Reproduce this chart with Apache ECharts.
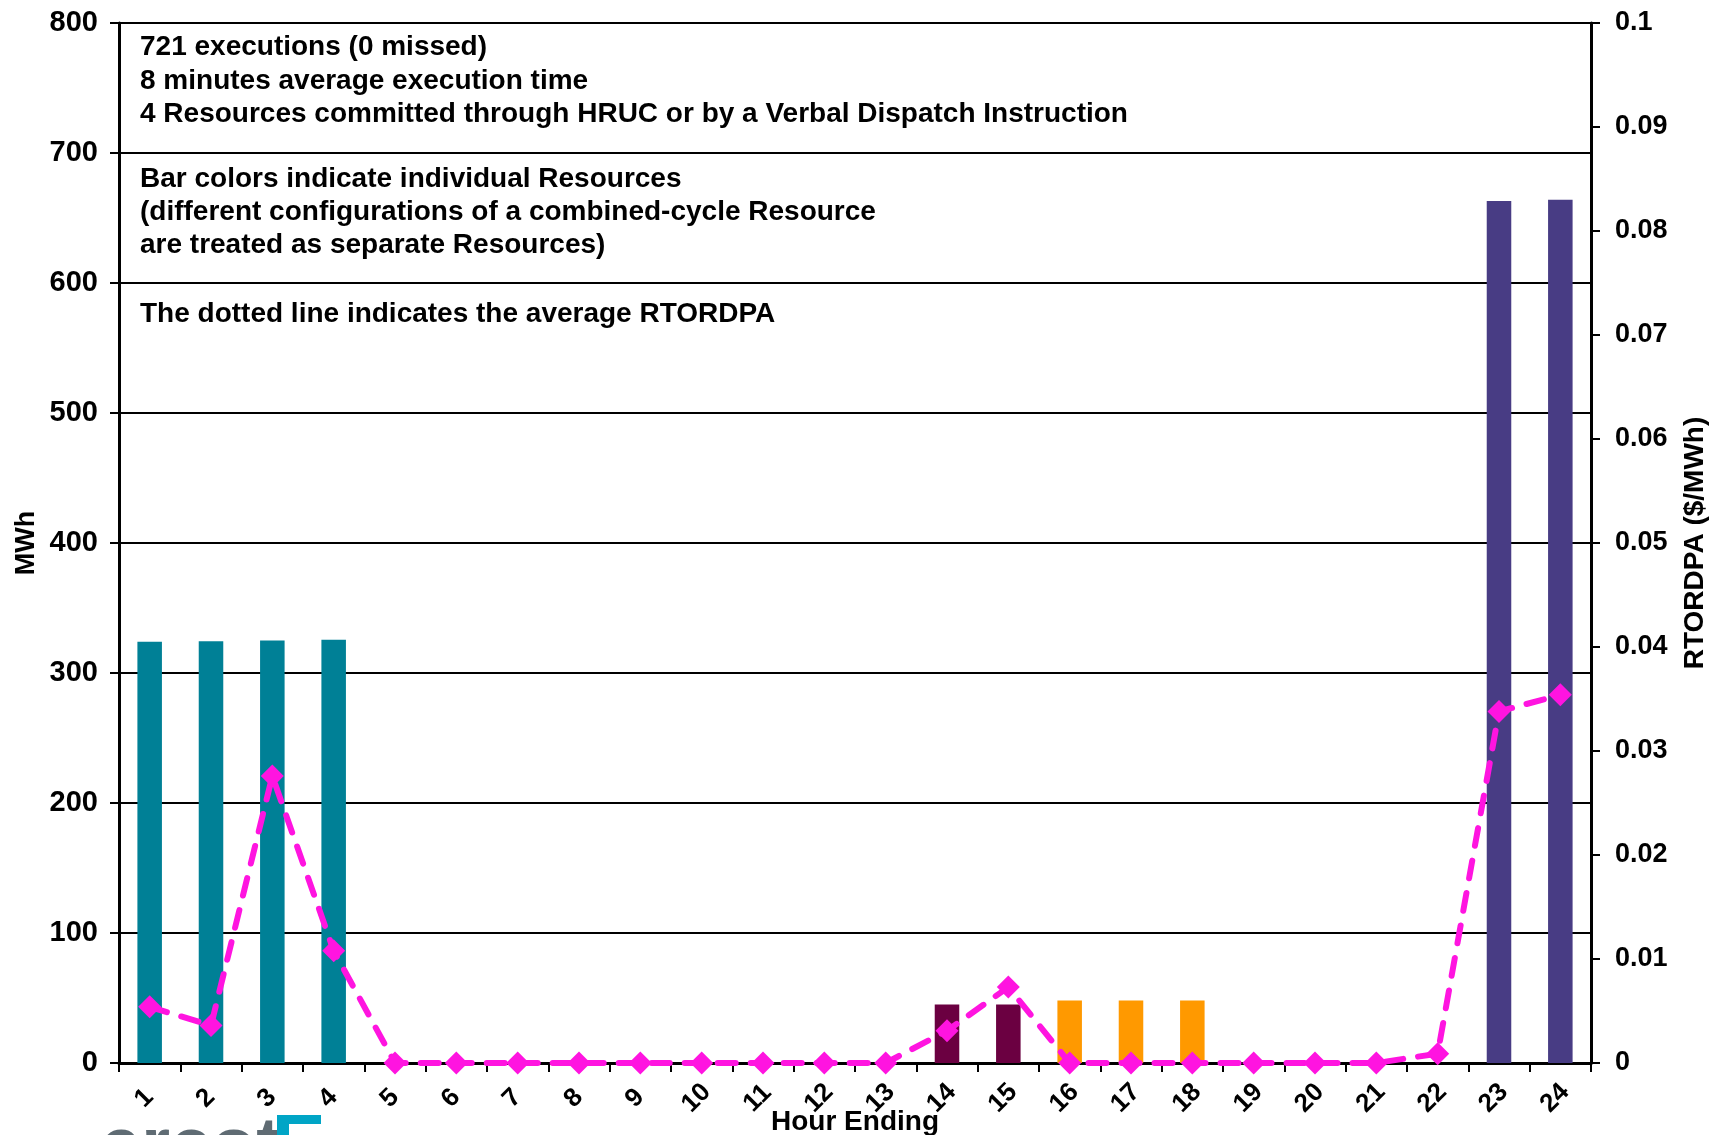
<!DOCTYPE html>
<html>
<head>
<meta charset="utf-8">
<script src="https://cdn.jsdelivr.net/npm/echarts@6/dist/echarts.min.js"></script>
<style>
html,body{margin:0;padding:0;background:#fff;overflow:hidden;width:100%;height:100%;}
#chart{position:absolute;left:0;top:0;width:1712px;height:1135px;}
</style>
</head>
<body>
<div id="chart"></div>
<script>
// ---- data ----
const hours = ['1','2','3','4','5','6','7','8','9','10','11','12','13','14','15','16','17','18','19','20','21','22','23','24'];
const resourceA = [324, 324.5, 325, 325.5, null, null, null, null, null, null, null, null, null, null, null, null, null, null, null, null, null, null, null, null];
const resourceB = [null, null, null, null, null, null, null, null, null, null, null, null, null, 45, 45, null, null, null, null, null, null, null, null, null];
const resourceC = [null, null, null, null, null, null, null, null, null, null, null, null, null, null, null, 48, 48, 48, null, null, null, null, null, null];
const resourceD = [null, null, null, null, null, null, null, null, null, null, null, null, null, null, null, null, null, null, null, null, null, null, 663, 664];
const rtordpa = [0.0054, 0.0036, 0.0276, 0.0108, 0, 0, 0, 0, 0, 0, 0, 0, 0, 0.0031, 0.0073, 0, 0, 0, 0, 0, 0, 0.0009, 0.0338, 0.0354];
const leftTicks = [0, 800, 100];
const rightTicks = [0, 0.1, 0.01];
const notes = [
  '721 executions (0 missed)\n8 minutes average execution time\n4 Resources committed through HRUC or by a Verbal Dispatch Instruction',
  'Bar colors indicate individual Resources\n(different configurations of a combined-cycle Resource\nare treated as separate Resources)',
  'The dotted line indicates the average RTORDPA'
];

const FONT = '"Liberation Sans", Arial, sans-serif';
const chart = echarts.init(document.getElementById('chart'), null, {renderer: 'canvas', width: 1712, height: 1135});

function barSeries(name, data, color) {
  return {
    name: name, type: 'bar', data: data, stack: 'mw', barWidth: '40%',
    itemStyle: {color: color}, z: 2
  };
}

const option = {
  backgroundColor: '#ffffff',
  animation: false,
  grid: {left: 119, right: 121, top: 23, bottom: 72, containLabel: false, outerBoundsMode: 'none'},
  xAxis: {
    type: 'category', data: hours, boundaryGap: true,
    name: 'Hour Ending', nameLocation: 'middle', nameGap: 45, nameMoveOverlap: false,
    nameTextStyle: {fontFamily: FONT, fontWeight: 'bold', fontSize: 28, color: '#000'},
    axisLine: {show: true, lineStyle: {color: '#000', width: 3}},
    axisTick: {show: true, alignWithLabel: false, length: 9, lineStyle: {color: '#000', width: 2}},
    axisLabel: {rotate: 45, align: 'center', verticalAlign: 'middle', margin: 30, padding: [0, 15, 0, 0],
      fontFamily: FONT, fontWeight: 'bold', fontSize: 26, color: '#000'},
    splitLine: {show: false}
  },
  yAxis: [{
    type: 'value', min: leftTicks[0], max: leftTicks[1], interval: leftTicks[2], position: 'left',
    name: 'MWh', nameLocation: 'middle', nameGap: 79, nameMoveOverlap: false,
    nameTextStyle: {fontFamily: FONT, fontWeight: 'bold', fontSize: 27, color: '#000'},
    axisLine: {show: true, lineStyle: {color: '#000', width: 3}},
    axisTick: {show: true, inside: false, length: 9, lineStyle: {color: '#000', width: 2}},
    axisLabel: {margin: 21, fontFamily: FONT, fontWeight: 'bold', fontSize: 29, color: '#000'},
    splitLine: {show: true, lineStyle: {color: '#000', width: 2}}
  }, {
    type: 'value', min: rightTicks[0], max: rightTicks[1], interval: rightTicks[2], position: 'right',
    name: 'RTORDPA ($/MWh)', nameLocation: 'middle', nameGap: 90, nameRotate: 90, nameMoveOverlap: false,
    nameTextStyle: {fontFamily: FONT, fontWeight: 'bold', fontSize: 28, color: '#000'},
    axisLine: {show: true, lineStyle: {color: '#000', width: 3}},
    axisTick: {show: true, inside: false, length: 9, lineStyle: {color: '#000', width: 2}},
    axisLabel: {margin: 24, fontFamily: FONT, fontWeight: 'bold', fontSize: 27, color: '#000',
      formatter: function (v) { return String(+v.toFixed(3)); }},
    splitLine: {show: false}
  }],
  series: [
    barSeries('Resource A', resourceA, '#008096'),
    barSeries('Resource B', resourceB, '#6B0041'),
    barSeries('Resource C', resourceC, '#FF9900'),
    barSeries('Resource D', resourceD, '#483C84'),
    {
      name: 'RTORDPA', type: 'line', yAxisIndex: 1, data: rtordpa,
      symbol: 'diamond', symbolSize: 23, showSymbol: true,
      lineStyle: {color: '#FF14E0', width: 6, type: [18, 15], cap: 'round'},
      itemStyle: {color: '#FF14E0'}, z: 5
    }
  ],
  graphic: [
    {type: 'text', left: 140, top: 31, z: 10, style: {text: notes[0], font: 'bold 28px ' + FONT, fill: '#000', lineHeight: 33.5}},
    {type: 'text', left: 140, top: 163, z: 10, style: {text: notes[1], font: 'bold 28px ' + FONT, fill: '#000', lineHeight: 33}},
    {type: 'text', left: 140, top: 300, z: 10, style: {text: notes[2], font: 'bold 28px ' + FONT, fill: '#000'}},
    {type: 'text', left: 100, top: 1112, z: 10, style: {text: 'ercot', font: 'bold 74px ' + FONT, fill: '#5F6B73'}},
    {type: 'rect', shape: {x: 277, y: 1115, width: 44, height: 9}, style: {fill: '#00A5C6'}, z: 10},
    {type: 'rect', shape: {x: 277, y: 1115, width: 12, height: 25}, style: {fill: '#00A5C6'}, z: 10}
  ]
};
chart.setOption(option);
</script>
</body>
</html>
